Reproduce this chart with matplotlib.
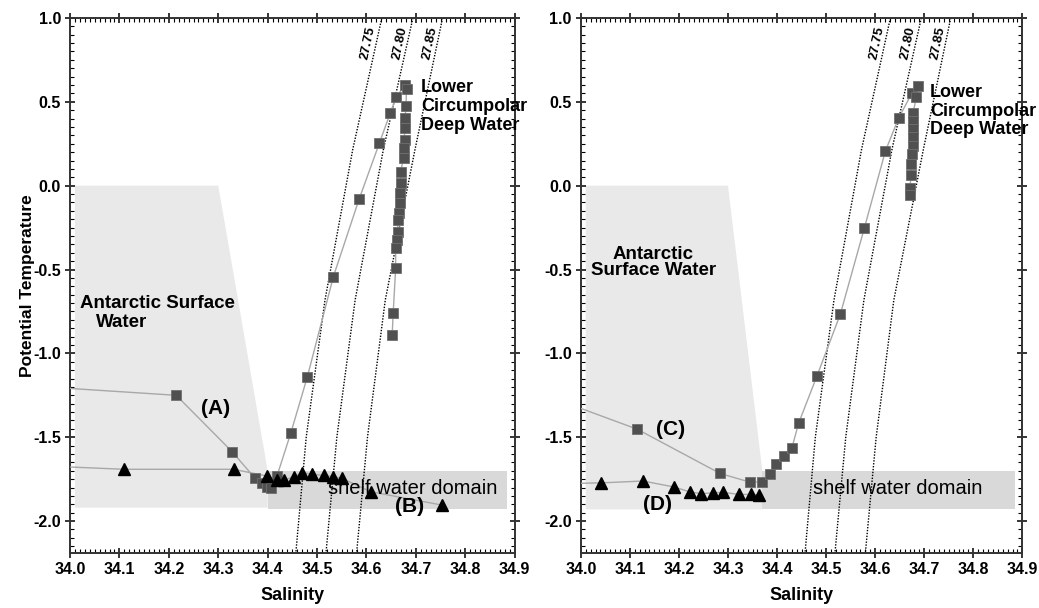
import numpy as np
import matplotlib; matplotlib.use("Agg")
import matplotlib.pyplot as plt
from matplotlib.ticker import MultipleLocator

plt.rcParams["font.family"] = ["Liberation Sans", "DejaVu Sans"]

# ---------------------------------------------------------------------------
# data (salinity, potential temperature)
# ---------------------------------------------------------------------------
# left panel: profile (A) squares, (B) triangles
A_S = [33.90, 34.215, 34.328, 34.374, 34.388, 34.399, 34.406, 34.419, 34.447,
       34.480, 34.533, 34.585, 34.626, 34.648, 34.660, 34.678, 34.681, 34.680,
       34.678, 34.677, 34.677, 34.675, 34.675, 34.669, 34.669, 34.668, 34.667,
       34.665, 34.664, 34.663, 34.661, 34.659, 34.659, 34.654, 34.652]
A_T = [-1.19, -1.25, -1.586, -1.743, -1.775, -1.799, -1.805, -1.73, -1.473,
       -1.143, -0.542, -0.081, 0.253, 0.432, 0.527, 0.600, 0.575, 0.475,
       0.402, 0.342, 0.272, 0.223, 0.163, 0.084, 0.014, -0.045, -0.105,
       -0.165, -0.205, -0.274, -0.324, -0.373, -0.493, -0.761, -0.890]
B_S = [33.90, 34.109, 34.331, 34.398, 34.418, 34.433, 34.454, 34.470, 34.490,
       34.513, 34.532, 34.550, 34.609, 34.752]
B_T = [-1.665, -1.691, -1.691, -1.731, -1.755, -1.755, -1.735, -1.711, -1.721,
       -1.727, -1.735, -1.745, -1.825, -1.904]

# right panel: profile (C) squares, (D) triangles
C_S = [33.90, 34.115, 34.284, 34.344, 34.370, 34.386, 34.397, 34.414, 34.430,
       34.444, 34.481, 34.529, 34.578, 34.621, 34.648, 34.675, 34.687, 34.684,
       34.677, 34.678, 34.678, 34.678, 34.677, 34.676, 34.674, 34.673, 34.671,
       34.671]
C_T = [-1.22, -1.452, -1.716, -1.767, -1.767, -1.717, -1.657, -1.611, -1.566,
       -1.416, -1.137, -0.766, -0.252, 0.208, 0.404, 0.552, 0.592, 0.528,
       0.432, 0.388, 0.338, 0.288, 0.238, 0.188, 0.128, 0.064, -0.012, -0.056]
D_S = [33.90, 34.042, 34.127, 34.189, 34.223, 34.245, 34.269, 34.290, 34.322,
       34.346, 34.363]
D_T = [-1.78, -1.772, -1.761, -1.796, -1.826, -1.836, -1.832, -1.828, -1.841,
       -1.841, -1.845]

# isopycnals (sigma-theta)
ISO_LABELS = ["27.75", "27.80", "27.85"]
ISO_T = [1.0, 0.213, -0.682, -1.5, -2.19]
ISO_S = [[34.631, 34.572, 34.516, 34.478, 34.457],
         [34.694, 34.634, 34.577, 34.540, 34.518],
         [34.754, 34.698, 34.638, 34.602, 34.580]]
ISO_LABEL_S = [34.603, 34.667, 34.728]

# water mass domains (S, T corners)
ASW_LEFT = [(34.01, 0.0), (34.30, 0.0), (34.40, -1.70), (34.40, -1.92), (34.01, -1.92)]
SHELF_LEFT = [(34.40, -1.70), (34.885, -1.70), (34.885, -1.93), (34.40, -1.93)]
ASW_RIGHT = [(34.01, 0.0), (34.30, 0.0), (34.37, -1.70), (34.37, -1.93), (34.01, -1.93)]
SHELF_RIGHT = [(34.37, -1.70), (34.885, -1.70), (34.885, -1.93), (34.37, -1.93)]

SQ_C, TRI_C, LINE_C = "#505050", "#000000", "#a8a8a8"
ASW_C, SHELF_C = "#e9e9e9", "#d9d9d9"


def base_axes(ax):
    ax.set_xlim(34.0, 34.9)
    ax.set_ylim(-2.19, 1.0)
    ax.xaxis.set_major_locator(MultipleLocator(0.1))
    ax.xaxis.set_minor_locator(MultipleLocator(0.01))
    ax.yaxis.set_major_locator(MultipleLocator(0.5))
    ax.yaxis.set_minor_locator(MultipleLocator(0.05))
    ax.xaxis.set_major_formatter(plt.FuncFormatter(lambda v, p: f"{v:.1f}"))
    ax.yaxis.set_major_formatter(plt.FuncFormatter(lambda v, p: f"{v:.1f}"))
    ax.tick_params(which="major", direction="inout", length=7, width=1.1,
                   top=True, right=True, labelsize=11.5, pad=3)
    ax.tick_params(which="minor", direction="in", length=3, width=0.8,
                   top=True, right=True)
    for lb in ax.get_xticklabels() + ax.get_yticklabels():
        lb.set_fontweight("bold")
    for sp in ax.spines.values():
        sp.set_linewidth(1.4); sp.set_color("#333333")
    ax.set_xlabel("Salinity", fontsize=13, fontweight="bold", labelpad=7)


def isopycnals(ax):
    for lab, s, ls in zip(ISO_LABELS, ISO_S, ISO_LABEL_S):
        ax.plot(s, ISO_T, color="black", ls=(0, (1, 1.1)), lw=1.0, zorder=2)
        ax.text(ls, 0.85, lab, rotation=78, ha="center", va="center",
                fontsize=9.5, fontweight="bold")


def panel(ax, asw, shelf, sq_s, sq_t, tri_s, tri_t):
    base_axes(ax)
    ax.add_patch(plt.Polygon(asw, closed=True, fc=ASW_C, ec="none", zorder=0))
    ax.add_patch(plt.Polygon(shelf, closed=True, fc=SHELF_C, ec="none", zorder=0))
    isopycnals(ax)
    ax.plot(sq_s, sq_t, color=LINE_C, lw=1.0, zorder=3)
    ax.plot(sq_s, sq_t, ls="none", marker="s", ms=7.8, mfc=SQ_C, mec="#707070",
            mew=0.6, zorder=4)
    ax.plot(tri_s, tri_t, color=LINE_C, lw=1.0, zorder=3)
    ax.plot(tri_s, tri_t, ls="none", marker="^", ms=8.5, mfc=TRI_C, mec=TRI_C,
            zorder=5)


fig = plt.figure(figsize=(10.39, 6.08), dpi=100)
ax1 = fig.add_axes([0.0674, 0.0905, 0.428, 0.880])
ax2 = fig.add_axes([0.559, 0.0905, 0.425, 0.880])

panel(ax1, ASW_LEFT, SHELF_LEFT, A_S, A_T, B_S, B_T)
panel(ax2, ASW_RIGHT, SHELF_RIGHT, C_S, C_T, D_S, D_T)

ax1.set_ylabel("Potential Temperature", fontsize=12.5, fontweight="bold")
ax1.yaxis.set_label_coords(-0.078, 0.5)

bold = dict(fontweight="bold", zorder=6)
# left annotations
ax1.text(34.02, -0.705, "Antarctic Surface", fontsize=13.5, va="center", **bold)
ax1.text(34.053, -0.815, "Water", fontsize=13.5, va="center", **bold)
ax1.text(34.294, -1.327, "(A)", fontsize=15, ha="center", va="center", **bold)
ax1.text(34.687, -1.914, "(B)", fontsize=15, ha="center", va="center", **bold)
ax1.text(34.523, -1.805, "shelf water domain", fontsize=14.5, va="center", zorder=6)
ax1.text(34.71, 0.47, "Lower\nCircumpolar\nDeep Water", fontsize=13,
         va="center", linespacing=1.15, **bold)

# right annotations
ax2.text(34.148, -0.46, "Antarctic\nSurface Water", fontsize=13.5, ha="center",
         va="center", linespacing=0.9, **bold)
ax2.text(34.182, -1.452, "(C)", fontsize=15, ha="center", va="center", **bold)
ax2.text(34.156, -1.90, "(D)", fontsize=15, ha="center", va="center", **bold)
ax2.text(34.474, -1.807, "shelf water domain", fontsize=14.5, va="center", zorder=6)
ax2.text(34.712, 0.445, "Lower\nCircumpolar\nDeep Water", fontsize=13,
         va="center", linespacing=1.15, **bold)

fig.savefig("out.png", dpi=100)
